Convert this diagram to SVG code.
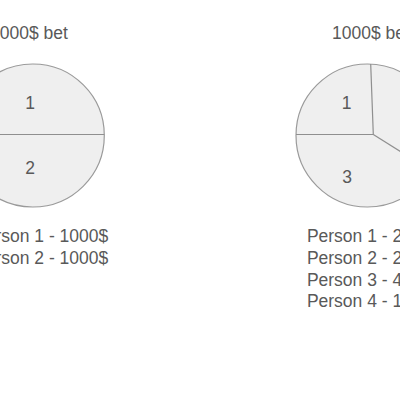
<svg xmlns="http://www.w3.org/2000/svg" width="400" height="400" viewBox="0 0 400 400">
<style>
.pie{fill:#efefef;stroke:#9a9a9a;stroke-width:1.2}
.cut{fill:none;stroke:#8f8f8f;stroke-width:1.2}
text{font-family:"Liberation Sans",Arial,sans-serif;fill:#595959}
.t{font-size:17.5px}
.p{font-size:17.5px}
.l{font-size:17.5px;text-anchor:middle}
</style>
<rect width="400" height="400" fill="#ffffff"/>
<g id="left-pie">
<text class="t" x="-10" y="39">1000$ bet</text>
<circle class="pie" cx="32.8" cy="135.5" r="71.5"/>
<line class="cut" x1="-40" y1="134.5" x2="104.3" y2="134.5"/>
<text class="l" x="30" y="109">1</text>
<text class="l" x="30" y="173.5">2</text>
<text class="p" x="-26" y="242.3">Person 1 - 1000$</text>
<text class="p" x="-26" y="264">Person 2 - 1000$</text>
</g>
<g id="right-pie">
<text class="t" x="332" y="39">1000$ bet</text>
<circle class="pie" cx="367.5" cy="135.5" r="71.5"/>
<polyline class="cut" points="370.7,64 373.3,134.5 296,134.5"/>
<line class="cut" x1="373.3" y1="134.5" x2="430" y2="170"/>
<text class="l" x="346.7" y="109">1</text>
<text class="l" x="347" y="183.3">3</text>
<text class="p" x="306.9" y="242.3">Person 1 - 2</text>
<text class="p" x="306.9" y="264">Person 2 - 2</text>
<text class="p" x="306.9" y="285.7">Person 3 - 4</text>
<text class="p" x="306.9" y="307.3">Person 4 - 1</text>
</g>
</svg>
